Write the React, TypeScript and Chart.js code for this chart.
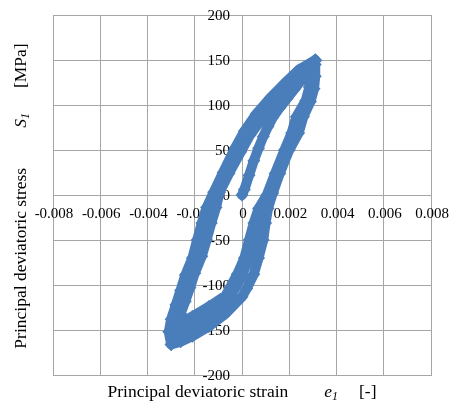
import React, { useEffect, useRef } from 'react';
import { Chart, registerables } from 'chart.js';

Chart.register(...registerables);

// ---- axes ----
const X_TICKS = [-0.008, -0.006, -0.004, -0.002, 0, 0.002, 0.004, 0.006, 0.008];
const X_TICK_LABELS = ['-0.008', '-0.006', '-0.004', '-0.002', '0', '0.002', '0.004', '0.006', '0.008'];
const Y_TICKS = [-200, -150, -100, -50, 0, 50, 100, 150, 200];
const Y_TICK_LABELS = ['-200', '-150', '-100', '-50', '0', '50', '100', '150', '200'];

// ---- data: principal deviatoric strain e1 [-] vs stress S1 [MPa] ----
// initial loading
const LOAD_X = [0, 0.0001, 0.0003, 0.0005, 0.0007, 0.0009, 0.0011, 0.0013, 0.0016, 0.0019, 0.0022, 0.0025, 0.0028, 0.0031];
const LOAD_Y = [0, 6, 22, 38, 52, 65, 76, 86, 97, 107, 117, 127, 138, 149];

// cycle B (middle)
const B_UNLOAD_X = [0.0031, 0.003, 0.0029, 0.00275, 0.0024, 0.0022, 0.0019, 0.0015, 0.0012, 0.0009, 0.0007, 0.0006, 0.0003, 0, -0.0003, -0.0007, -0.0014, -0.0021, -0.0026, -0.0029];
const B_UNLOAD_Y = [150, 135, 120, 105, 87, 69, 50, 24, 2, -15, -31, -50, -69, -90, -104, -122, -135, -146, -154, -160];
const B_RELOAD_X = [-0.0029, -0.0029, -0.0027, -0.0025, -0.0023, -0.0021, -0.0018, -0.0017, -0.0015, -0.0013, -0.001, -0.0006, -0.0001, 0.00025, 0.0008, 0.0014, 0.0019, 0.0025, 0.0031];
const B_RELOAD_Y = [-160, -148, -135, -120, -105, -88, -69, -50, -31, -14, 3, 24, 50, 69, 87, 105, 120, 136, 150];

// cycle A (inner)
const A_UNLOAD_X = [0.003, 0.00295, 0.00285, 0.0027, 0.0023, 0.0021, 0.0018, 0.0014, 0.00105, 0.0007, 0.0005, 0.0003, 0.0001, -0.0002, -0.0007, -0.0014, -0.0021, -0.0026, -0.0028];
const A_UNLOAD_Y = [147, 135, 120, 105, 87, 69, 50, 24, 0, -15, -31, -50, -70, -88, -112, -124, -135, -142, -148];
const A_RELOAD_X = [-0.0027, -0.0026, -0.0024, -0.0022, -0.002, -0.0017, -0.0015, -0.0013, -0.0011, -0.00095, -0.00055, -0.00005, 0.00035, 0.00085, 0.0015, 0.00205, 0.0026, 0.003];
const A_RELOAD_Y = [-145, -132, -118, -103, -87, -68, -50, -31, -14, 3, 24, 48, 67, 85, 102, 116, 132, 147];

// cycle C (outer)
const C_UNLOAD_X = [0.0031, 0.0031, 0.00305, 0.0029, 0.0026, 0.0024, 0.002, 0.0016, 0.0013, 0.0011, 0.001, 0.0009, 0.0007, 0.0005, 0.0002, 0, -0.0007, -0.0014, -0.0021, -0.0026, -0.003];
const C_UNLOAD_Y = [145, 132, 118, 104, 87, 69, 50, 24, 2, -15, -31, -50, -70, -88, -104, -113, -132, -146, -157, -163, -166];
const C_RELOAD_X = [-0.003, -0.0031, -0.003, -0.0028, -0.0026, -0.0024, -0.0021, -0.0019, -0.0017, -0.0015, -0.0012, -0.0008, -0.0003, 0.0001, 0.0006, 0.0012, 0.0018, 0.0024, 0.0031];
const C_RELOAD_Y = [-166, -152, -138, -122, -106, -89, -70, -50, -31, -14, 3, 25, 52, 71, 90, 108, 124, 139, 150];

const BRANCHES: [number[], number[]][] = [
  [LOAD_X, LOAD_Y],
  [B_UNLOAD_X, B_UNLOAD_Y],
  [B_RELOAD_X, B_RELOAD_Y],
  [A_UNLOAD_X, A_UNLOAD_Y],
  [A_RELOAD_X, A_RELOAD_Y],
  [C_UNLOAD_X, C_UNLOAD_Y],
  [C_RELOAD_X, C_RELOAD_Y],
];

const BLUE = '#4a7ebb';
const GRID = '#a6a6a6';
const FONT = '"Liberation Serif", "Times New Roman", serif';

type Part = { t?: string; gap?: number; italic?: boolean; size?: number; dy?: number };

function drawRich(ctx: CanvasRenderingContext2D, parts: Part[], cx: number, baseline: number) {
  const fontOf = (p: Part) => `${p.italic ? 'italic ' : ''}${p.size || 17.5}px ${FONT}`;
  let total = 0;
  parts.forEach((p) => {
    if (p.gap) total += p.gap;
    else { ctx.font = fontOf(p); total += ctx.measureText(p.t || '').width; }
  });
  let x = cx - total / 2;
  ctx.textAlign = 'left';
  ctx.textBaseline = 'alphabetic';
  parts.forEach((p) => {
    if (p.gap) { x += p.gap; return; }
    ctx.font = fontOf(p);
    ctx.fillText(p.t || '', x, baseline + (p.dy || 0));
    x += ctx.measureText(p.t || '').width;
  });
}

const labelsPlugin = {
  id: 'customLabels',
  beforeDatasetsDraw(chart: any) {
    const { ctx, scales } = chart;
    const xs = scales.x, ys = scales.y;
    const x0 = xs.getPixelForValue(0);
    const y0 = ys.getPixelForValue(0);
    ctx.save();
    ctx.fillStyle = '#000';
    ctx.font = `15px ${FONT}`;
    ctx.textBaseline = 'alphabetic';
    ctx.textAlign = 'center';
    X_TICKS.forEach((v, i) => ctx.fillText(X_TICK_LABELS[i], xs.getPixelForValue(v) + 1, y0 + 23));
    ctx.textAlign = 'right';
    Y_TICKS.forEach((v, i) => ctx.fillText(Y_TICK_LABELS[i], x0 - 12, ys.getPixelForValue(v) + 5));
    ctx.restore();
  },
  afterDraw(chart: any) {
    const { ctx, chartArea } = chart;
    ctx.save();
    ctx.fillStyle = '#000';
    const cx = (chartArea.left + chartArea.right) / 2;
    drawRich(ctx, [
      { t: 'Principal deviatoric strain' },
      { gap: 36 },
      { t: 'e', italic: true },
      { t: '1', italic: true, size: 12, dy: 3 },
      { gap: 21 },
      { t: '[-]' },
    ], cx, 397);
    ctx.translate(26, (chartArea.top + chartArea.bottom) / 2 + 1);
    ctx.rotate(-Math.PI / 2);
    drawRich(ctx, [
      { t: 'Principal deviatoric stress' },
      { gap: 40 },
      { t: 'S', italic: true },
      { t: '1', italic: true, size: 12, dy: 3 },
      { gap: 25 },
      { t: '[MPa]' },
    ], 0, 0);
    ctx.restore();
  },
};

export default function App() {
  const ref = useRef<HTMLCanvasElement>(null);
  useEffect(() => {
    if (!ref.current) return;
    const points = BRANCHES.flatMap(([xs, ys]) => xs.map((x, i) => ({ x, y: ys[i] })));
    const axisCommon = {
      type: 'linear' as const,
      ticks: { display: false },
      grid: { color: GRID, lineWidth: 1, drawTicks: false },
      border: { display: true, color: GRID, width: 1 },
    };
    const chart = new Chart(ref.current, {
      type: 'scatter',
      data: {
        datasets: [
          {
            data: points,
            showLine: true,
            borderColor: BLUE,
            borderWidth: 10,
            borderJoinStyle: 'round',
            borderCapStyle: 'round',
            backgroundColor: BLUE,
            pointStyle: 'rectRot',
            pointRadius: 6.5,
            pointBackgroundColor: BLUE,
            pointBorderColor: BLUE,
            pointBorderWidth: 0,
            tension: 0,
          },
        ],
      },
      options: {
        animation: false,
        responsive: true,
        maintainAspectRatio: false,
        layout: { padding: { left: 53, right: 21, top: 15, bottom: 33 } },
        plugins: { legend: { display: false }, tooltip: { enabled: false } },
        scales: {
          x: {
            ...axisCommon,
            min: -0.008,
            max: 0.008,
            afterBuildTicks: (s: any) => { s.ticks = X_TICKS.map((value) => ({ value })); },
          },
          y: {
            ...axisCommon,
            min: -200,
            max: 200,
            afterBuildTicks: (s: any) => { s.ticks = Y_TICKS.map((value) => ({ value })); },
          },
        },
      },
      plugins: [labelsPlugin],
    });
    return () => chart.destroy();
  }, []);
  return (
    <div style={{ position: 'fixed', left: 0, top: 0, width: 452, height: 408, background: '#fff' }}>
      <canvas ref={ref} />
    </div>
  );
}
